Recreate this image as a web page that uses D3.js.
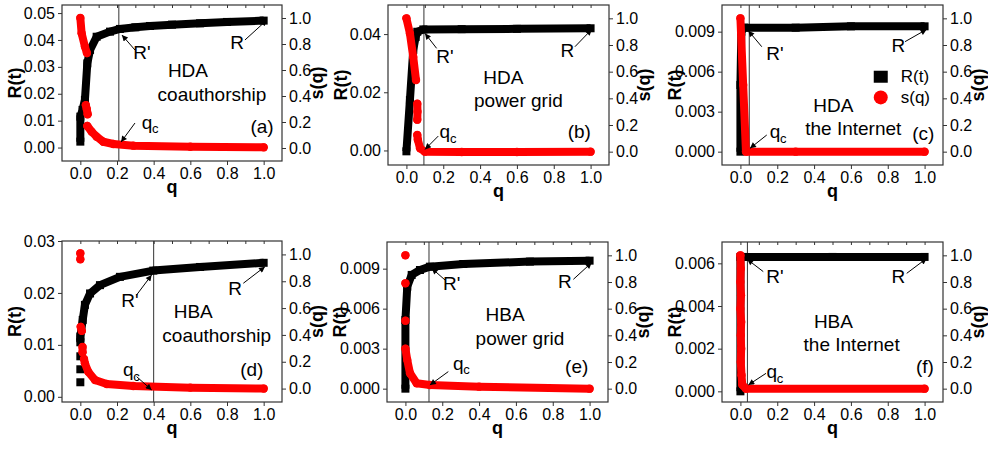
<!DOCTYPE html>
<html>
<head>
<meta charset="utf-8">
<script src="https://cdn.jsdelivr.net/npm/d3@7"></script>
<style>
  body { margin: 0; background: #fff; }
  svg { font-family: "Liberation Sans", Arial, sans-serif; }
  .axis text { font-size: 16px; fill: #000; }
  .axis line { stroke: #333; }
  .axis path { display: none; }
  .title { font-size: 18px; font-weight: bold; }
  .note { font-size: 19px; }
</style>
</head>
<body>
<div id="chart"></div>
<script>
// ---- data ----
const qDomain = [-0.1, 1.1];
const sDomain = [-0.1, 1.1];
const qTicks = [0, 0.2, 0.4, 0.6, 0.8, 1.0];
const qMinor = [0, 0.1, 0.2, 0.3, 0.4, 0.5, 0.6, 0.7, 0.8, 0.9, 1.0];
const sTicks = [0, 0.2, 0.4, 0.6, 0.8, 1.0];

const panelIds = ['(a)', '(b)', '(c)', '(d)', '(e)', '(f)'];
const methods = ['HDA', 'HDA', 'HDA', 'HBA', 'HBA', 'HBA'];
const networks = ['coauthorship', 'power grid', 'the Internet', 'coauthorship', 'power grid', 'the Internet'];
const qcValues = [0.21, 0.095, 0.048, 0.4, 0.128, 0.038];

const rDomains = [[-0.005, 0.053], [-0.005, 0.05], [-0.001, 0.011], [-0.001, 0.03], [-0.001, 0.011], [-0.0005, 0.007]];
const rTicks = [
  [0, 0.01, 0.02, 0.03, 0.04, 0.05],
  [0, 0.02, 0.04],
  [0, 0.003, 0.006, 0.009],
  [0, 0.01, 0.02, 0.03],
  [0, 0.003, 0.006, 0.009],
  [0, 0.002, 0.004, 0.006]
];
const rFormats = ['.2f', '.2f', '.3f', '.2f', '.3f', '.3f'];

// R(t) series (black squares), null = gap
const rA = [[0, 0.0022], [0, 0.0115], [0.012, 0.014], [0.025, 0.0177], [0.038, 0.0313], [0.053, 0.0363], [0.089, 0.0412],
  [0.162, 0.0431], [0.216, 0.0441], [0.3, 0.0447], [0.38, 0.0452], [0.5, 0.0457], [0.653, 0.0462], [0.8, 0.0467], [1.0, 0.0472]];
const rB = [[0, -0.0003], [0.019, 0.0173], [0.037, 0.0345], [0.05, 0.039], [0.059, 0.0408], [0.092, 0.0416],
  [0.3, 0.0417], [0.6, 0.0418], [1.0, 0.042]];
const rC = [[0, 0], [0, 0.005], [0.005, 0.009], [0.02, 0.0093], [0.3, 0.0093], [0.6, 0.0094], [1.0, 0.0094]];
const rD = [[0, 0.0028], null, [0, 0.0053], null, [0, 0.0078], null, [0, 0.0105], [0, 0.0116], [0.013, 0.0148], [0.025, 0.0177],
  [0.053, 0.0199], [0.107, 0.0215], [0.216, 0.0231], [0.398, 0.0243], [0.653, 0.025], [1.0, 0.0258]];
const rE = [[0, 0], [0, 0.00515], [0.01, 0.00765], [0.034, 0.00853], [0.079, 0.0089], [0.133, 0.00915], [0.314, 0.00935],
  [0.676, 0.00953], [1.0, 0.0096]];
const rF = [[0, 0], [0, 0.0063], [0.02, 0.0063], [0.5, 0.0063], [1.0, 0.0063]];

// s(q) series (red circles), null = gap
const sA = [[0, 1.0], [0.007, 0.882], [0.025, 0.78], [0.036, 0.73], null,
  [0.03, 0.33], [0.035, 0.3], [0.04, 0.26], null,
  [0.038, 0.169], [0.062, 0.125], [0.089, 0.087], [0.125, 0.048], [0.18, 0.031], [0.29, 0.018], [0.6, 0.01], [1.0, 0.005]];
const sB = [[0, 1.0], [0.019, 0.887], [0.037, 0.71], [0.052, 0.538], null,
  [0.059, 0.36], [0.06, 0.3], [0.059, 0.24], null,
  [0.059, 0.125], [0.062, 0.09], [0.074, 0.025], [0.1, 0.0], [0.3, -0.002], [0.6, -0.002], [1.0, 0.0]];
const sC = [[0, 1.0], [0.015, 0.5], [0.03, 0.0], [0.3, 0.0], [1.0, 0.0]];
const sD = [[0, 1.008], null, [0, 0.964], null, [0.002, 0.46], [0.008, 0.43], null, [0.012, 0.31], [0.012, 0.27], null,
  [0.02, 0.22], [0.025, 0.188], [0.043, 0.126], [0.08, 0.064], [0.144, 0.034], [0.289, 0.019], [0.6, 0.007], [1.0, 0.0]];
const sE = [[0, 1.0], null, [0, 0.79], null, [0, 0.51], null,
  [0, 0.3], [0.01, 0.215], [0.025, 0.115], [0.061, 0.04], [0.133, 0.0275], [0.4, 0.015], [1.0, 0.0]];
const sF = [[0, 1.0], [0.002, 0.9], [0, 0.8], [0.003, 0.7], [0, 0.6], [0.004, 0.5], [0.002, 0.4], [0.004, 0.3],
  [0.002, 0.2], [0.006, 0.1], [0.01, 0.03], [0.03, 0.0], [1.0, 0.0]];

const rSeries = [rA, rB, rC, rD, rE, rF];
const sSeries = [sA, sB, sC, sD, sE, sF];

// annotation anchors in data units [q, s]
const rPrimeText = [[0.336, 0.738], [0.209, 0.712], [0.188, 0.737], [0.271, 0.66], [0.251, 0.79], [0.188, 0.84]];
const rText = [[0.855, 0.815], [0.874, 0.757], [0.857, 0.8], [0.844, 0.747], [0.866, 0.802], [0.857, 0.84]];
const methodText = [[0.587, 0.6], [0.526, 0.557], [0.505, 0.35], [0.616, 0.573], [0.541, 0.553], [0.505, 0.502]];
const networkText = [[0.718, 0.408], [0.608, 0.387], [0.613, 0.175], [0.744, 0.399], [0.622, 0.378], [0.604, 0.328]];
const qcText = [[0.364, 0.2], [0.209, 0.15], [0.188, 0.15], [0.262, 0.139], [0.287, 0.19], [0.17, 0.128]];
const idText = [[0.991, 0.162], [0.939, 0.15], [0.993, 0.138], [0.935, 0.139], [0.93, 0.165], [1.002, 0.165]];
// arrows [q0, s0, q1, s1] : R', R, qc
const arrows = [
  [[0.298, 0.754, 0.227, 0.869], [0.898, 0.831, 1.018, 0.985], [0.298, 0.192, 0.222, 0.046]],
  [[0.164, 0.775, 0.101, 0.887], [0.915, 0.787, 1.006, 0.917], [0.173, 0.117, 0.101, 0.017]],
  [[0.116, 0.787, 0.043, 0.907], [0.894, 0.825, 1.011, 0.917], [0.143, 0.125, 0.052, 0.025]],
  [[0.307, 0.698, 0.389, 0.847], [0.889, 0.785, 1.007, 0.909], [0.307, 0.089, 0.389, -0.01]],
  [[0.215, 0.815, 0.143, 0.903], [0.912, 0.82, 1.011, 0.945], [0.233, 0.128, 0.133, 0.0275]],
  [[0.124, 0.878, 0.037, 0.97], [0.903, 0.865, 1.011, 0.977], [0.139, 0.115, 0.043, 0.028]]
];
const legendLabels = ['R(t)', 's(q)'];
const legendPos = [[0.762, 0.562], [0.762, 0.407]];

// ---- layout ----
const W = 988, H = 449;
const boxes = [
  { x: 62, y: 5, w: 220, h: 156 },
  { x: 388, y: 5, w: 221, h: 160 },
  { x: 722, y: 5, w: 221, h: 160 },
  { x: 62, y: 241, w: 220, h: 161 },
  { x: 387, y: 242, w: 221, h: 160 },
  { x: 722, y: 242, w: 221, h: 160 }
];
const red = '#ff0000';

const svg = d3.select('#chart').append('svg').attr('width', W).attr('height', H);
svg.append('defs').append('marker')
  .attr('id', 'arrow')
  .attr('viewBox', '0 0 10 10')
  .attr('refX', 10).attr('refY', 5)
  .attr('markerWidth', 8).attr('markerHeight', 6)
  .attr('markerUnits', 'userSpaceOnUse')
  .attr('orient', 'auto')
  .append('path').attr('d', 'M0,0L10,5L0,10z').attr('fill', '#000');

const drawPanel = (b, i) => {
  const g = svg.append('g').attr('transform', `translate(${b.x},${b.y})`);
  const x = d3.scaleLinear().domain(qDomain).range([0, b.w]);
  const yR = d3.scaleLinear().domain(rDomains[i]).range([b.h, 0]);
  const yS = d3.scaleLinear().domain(sDomain).range([b.h, 0]);

  g.append('g').attr('class', 'axis')
    .attr('transform', `translate(0,${b.h})`)
    .call(d3.axisBottom(x).tickValues(qTicks).tickFormat(d3.format('.1f')).tickSize(4).tickPadding(3));
  g.append('g').attr('class', 'axis')
    .call(d3.axisLeft(yR).tickValues(rTicks[i]).tickFormat(d3.format(rFormats[i])).tickSize(4).tickPadding(3));
  g.append('g').attr('class', 'axis')
    .attr('transform', `translate(${b.w},0)`)
    .call(d3.axisRight(yS).tickValues(sTicks).tickFormat(d3.format('.1f')).tickSize(4).tickPadding(3));
  g.append('g').attr('class', 'axis')
    .call(d3.axisTop(x).tickValues(qMinor).tickSize(-3).tickFormat(''));

  g.append('rect').attr('width', b.w).attr('height', b.h)
    .attr('fill', 'none').attr('stroke', '#333').attr('stroke-width', 1.2);

  // axis titles
  g.append('text').attr('class', 'title')
    .attr('transform', `translate(-47,${b.h / 2}) rotate(-90)`)
    .attr('text-anchor', 'middle').attr('dominant-baseline', 'central')
    .text('R(t)');
  g.append('text').attr('class', 'title')
    .attr('transform', `translate(${b.w + 35},${b.h / 2}) rotate(-90)`)
    .attr('text-anchor', 'middle').attr('dominant-baseline', 'central')
    .text('s(q)');
  g.append('text').attr('class', 'title')
    .attr('x', b.w / 2).attr('y', b.h + 32)
    .attr('text-anchor', 'middle')
    .text('q');

  // qc line
  g.append('line')
    .attr('x1', x(qcValues[i])).attr('x2', x(qcValues[i]))
    .attr('y1', 0).attr('y2', b.h)
    .attr('stroke', '#333').attr('stroke-width', 1);

  // R(t)
  const rLine = d3.line().defined(d => d).x(d => x(d[0])).y(d => yR(d[1]));
  g.append('path').datum(rSeries[i]).attr('d', rLine)
    .attr('fill', 'none').attr('stroke', '#000').attr('stroke-width', 8).attr('stroke-linejoin', 'round');
  g.selectAll('rect.rm').data(rSeries[i].filter(d => d)).join('rect').attr('class', 'rm')
    .attr('x', d => x(d[0]) - 4).attr('y', d => yR(d[1]) - 4)
    .attr('width', 8).attr('height', 8).attr('fill', '#000');

  // s(q)
  const sLine = d3.line().defined(d => d).x(d => x(d[0])).y(d => yS(d[1]));
  g.append('path').datum(sSeries[i]).attr('d', sLine)
    .attr('fill', 'none').attr('stroke', red).attr('stroke-width', 8)
    .attr('stroke-linecap', 'round').attr('stroke-linejoin', 'round');
  g.selectAll('circle.sm').data(sSeries[i].filter(d => d)).join('circle').attr('class', 'sm')
    .attr('cx', d => x(d[0])).attr('cy', d => yS(d[1])).attr('r', 4.2).attr('fill', red);

  // notes
  const note = (pos, txt) => g.append('text').attr('class', 'note')
    .attr('x', x(pos[0])).attr('y', yS(pos[1]))
    .attr('text-anchor', 'middle').attr('dominant-baseline', 'central')
    .text(txt);
  note(rPrimeText[i], "R'");
  note(rText[i], 'R');
  note(methodText[i], methods[i]);
  note(networkText[i], networks[i]);
  note(idText[i], panelIds[i]);
  note(qcText[i], 'q');
  g.append('text').attr('font-size', 13)
    .attr('x', x(qcText[i][0]) + 5).attr('y', yS(qcText[i][1]) + 11)
    .text('c');

  g.selectAll('line.arr').data(arrows[i]).join('line').attr('class', 'arr')
    .attr('x1', d => x(d[0])).attr('y1', d => yS(d[1]))
    .attr('x2', d => x(d[2])).attr('y2', d => yS(d[3]))
    .attr('stroke', '#000').attr('stroke-width', 1)
    .attr('marker-end', 'url(#arrow)');

  if (i === 2) {
    g.append('rect')
      .attr('x', x(legendPos[0][0]) - 7).attr('y', yS(legendPos[0][1]) - 6)
      .attr('width', 14).attr('height', 12).attr('fill', '#000');
    g.append('circle')
      .attr('cx', x(legendPos[1][0])).attr('cy', yS(legendPos[1][1]))
      .attr('r', 7).attr('fill', red);
    legendLabels.forEach((t, k) => g.append('text')
      .style('font-size', '17px')
      .attr('x', x(legendPos[k][0]) + 20).attr('y', yS(legendPos[k][1]))
      .attr('dominant-baseline', 'central')
      .text(t));
  }
};

boxes.forEach(drawPanel);
</script>
</body>
</html>
